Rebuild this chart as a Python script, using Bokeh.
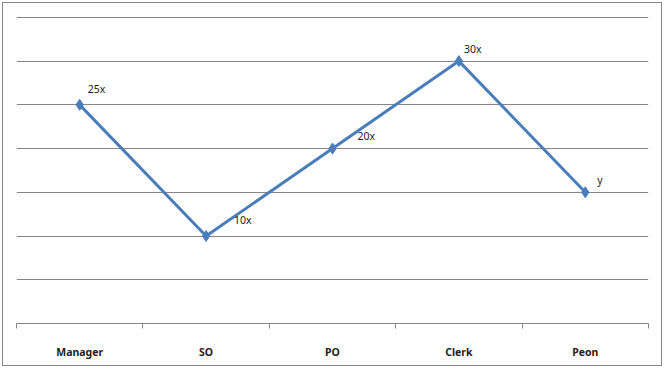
from bokeh.plotting import figure
from bokeh.models import ColumnDataSource, FixedTicker, Range1d, LabelSet
from bokeh.core.properties import value
from bokeh.embed import file_html
from bokeh.resources import INLINE

categories = ["Manager", "SO", "PO", "Clerk", "Peon"]
values = [25, 10, 20, 30, 15]
point_labels = ["25x", "10x", "20x", "30x", "y"]

# label placement (styling)
label_dx = [8, 28, 25, 5, 12]
label_dy = [9, 9, 6, 5, 5]

xs = [i + 0.5 for i in range(len(categories))]

src = ColumnDataSource(dict(x=xs, y=values, lab=point_labels, dx=label_dx, dy=label_dy))

p = figure(width=660, height=364, output_backend="svg", toolbar_location=None,
           x_range=Range1d(0, 5), y_range=Range1d(0, 35.1),
           min_border_left=13, min_border_right=15, min_border_top=13, min_border_bottom=44)
p.styles = {"margin": "2px", "border": "1px solid #868686"}
p.outline_line_color = None
p.background_fill_color = "white"
p.border_fill_color = "white"

p.yaxis.visible = False
p.ygrid.ticker = FixedTicker(ticks=[5, 10, 15, 20, 25, 30, 35])
p.ygrid.grid_line_color = "#868686"
p.ygrid.grid_line_width = 1
p.xgrid.visible = False

ax = p.xaxis[0]
ax.ticker = FixedTicker(ticks=xs, minor_ticks=list(range(len(categories) + 1)))
ax.major_label_overrides = {x: c for x, c in zip(xs, categories)}
ax.major_tick_line_color = None
ax.major_tick_out = 0
ax.major_tick_in = 0
ax.minor_tick_line_color = "#868686"
ax.minor_tick_out = 5
ax.minor_tick_in = 0
ax.axis_line_color = "#868686"
ax.major_label_text_font = "Noto Sans"
ax.major_label_text_font_style = "bold"
ax.major_label_text_font_size = "10.5px"
ax.major_label_text_color = "#222222"
ax.major_label_standoff = 16

p.line("x", "y", source=src, line_color="#4A7EBB", line_width=3)
p.scatter("x", "y", source=src, marker="diamond", size=11, fill_color="#4A7EBB",
          line_color="#4A7EBB")

labels = LabelSet(x="x", y="y", text="lab", source=src, x_offset="dx", y_offset="dy",
                  text_font=value("Noto Sans"), text_font_size=value("10.5px"),
                  text_color="#1a1a1a", text_baseline="bottom", text_align="left")
p.add_layout(labels)

open("out.html", "w").write(file_html(p, INLINE))
